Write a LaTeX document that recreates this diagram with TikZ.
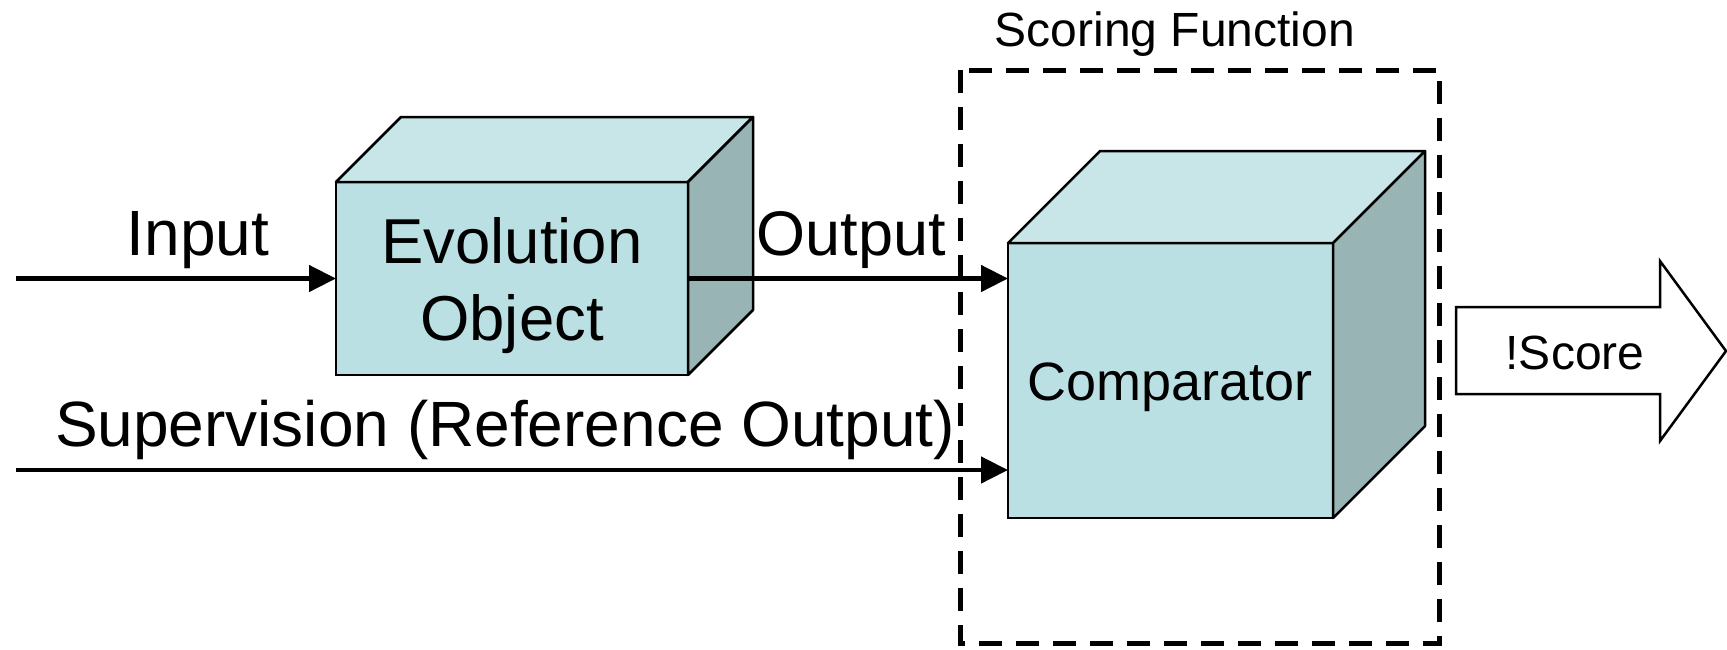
\documentclass[tikz,border=0pt]{standalone}
\usepackage{fontspec}
\setmainfont{Liberation Sans}
\usetikzlibrary{arrows.meta}
\definecolor{facefront}{HTML}{BAE0E3}
\definecolor{facetop}{HTML}{C8E6E8}
\definecolor{faceside}{HTML}{98B4B5}
\begin{document}
\begin{tikzpicture}[x=1pt,y=-1pt,
  frontface/.style={draw=black, line width=2.5pt, fill=facefront, inner sep=0pt, outer sep=0pt},
  topface/.style={draw=black, line width=2.5pt, fill=facetop, line join=round},
  sideface/.style={draw=black, line width=2.5pt, fill=faceside, line join=round},
  conn/.style={draw=black, line width=4.6pt, -{Triangle[length=27pt,width=26pt]}},
  label/.style={anchor=base, inner sep=0pt, font=\fontsize{64}{70}\selectfont},
  framebox/.style={draw=black, line width=5pt, dash pattern=on 23pt off 14pt},
  bigarrow/.style={draw=black, line width=2.5pt, fill=white, line join=miter}
]
\useasboundingbox (0,0) rectangle (1727,649);

% Scoring function frame and its caption
\draw[framebox] (960,70) rectangle (1439,643);
\node[label, font=\fontsize{48}{52}\selectfont] (scoring) at (1175,46) {Scoring Function};

% Evolution object cube
\node[frontface, minimum width=352pt, minimum height=193pt] (evo) at (512,278.5) {};
\filldraw[topface] (evo.north west) -- ++(65,-65) -- ++(352,0) -- (evo.north east) -- cycle;
\filldraw[sideface] (evo.north east) -- ++(65,-65) -- ++(0,193) -- (evo.south east) -- cycle;
\node[label, font=\fontsize{63.5}{70}\selectfont] (evo1) at (512,263) {Evolution};
\node[label, font=\fontsize{63.5}{70}\selectfont] (evo2) at (512,340) {Object};

% Comparator cube
\node[frontface, minimum width=325pt, minimum height=275pt] (cmp) at (1170.5,380.5) {};
\filldraw[topface] (cmp.north west) -- ++(92,-92) -- ++(325,0) -- (cmp.north east) -- cycle;
\filldraw[sideface] (cmp.north east) -- ++(92,-92) -- ++(0,275) -- (cmp.south east) -- cycle;
\node[label, font=\fontsize{54}{60}\selectfont] (cmptext) at (1170,400) {Comparator};

% Connectors
\coordinate (instart) at (16,278.5);
\coordinate (supstart) at (16,470);
\draw[conn] (instart) -- (evo.west);
\draw[conn] (evo.east) -- (evo.east -| cmp.west);
\draw[conn] (supstart) -- (supstart -| cmp.west);
\node[label] (inlabel) at (198,255) {Input};
\node[label, font=\fontsize{63}{70}\selectfont] (outlabel) at (851,255) {Output};
\node[label] (suplabel) at (505,446) {Supervision (Reference Output)};

% Score block arrow
\filldraw[bigarrow] (1456,307) -- (1660,307) -- (1660,261) -- (1726,351)
  -- (1660,441) -- (1660,394) -- (1456,394) -- cycle;
\node[label, font=\fontsize{48}{54}\selectfont] (score) at (1575,369) {!Score};
\end{tikzpicture}
\end{document}
